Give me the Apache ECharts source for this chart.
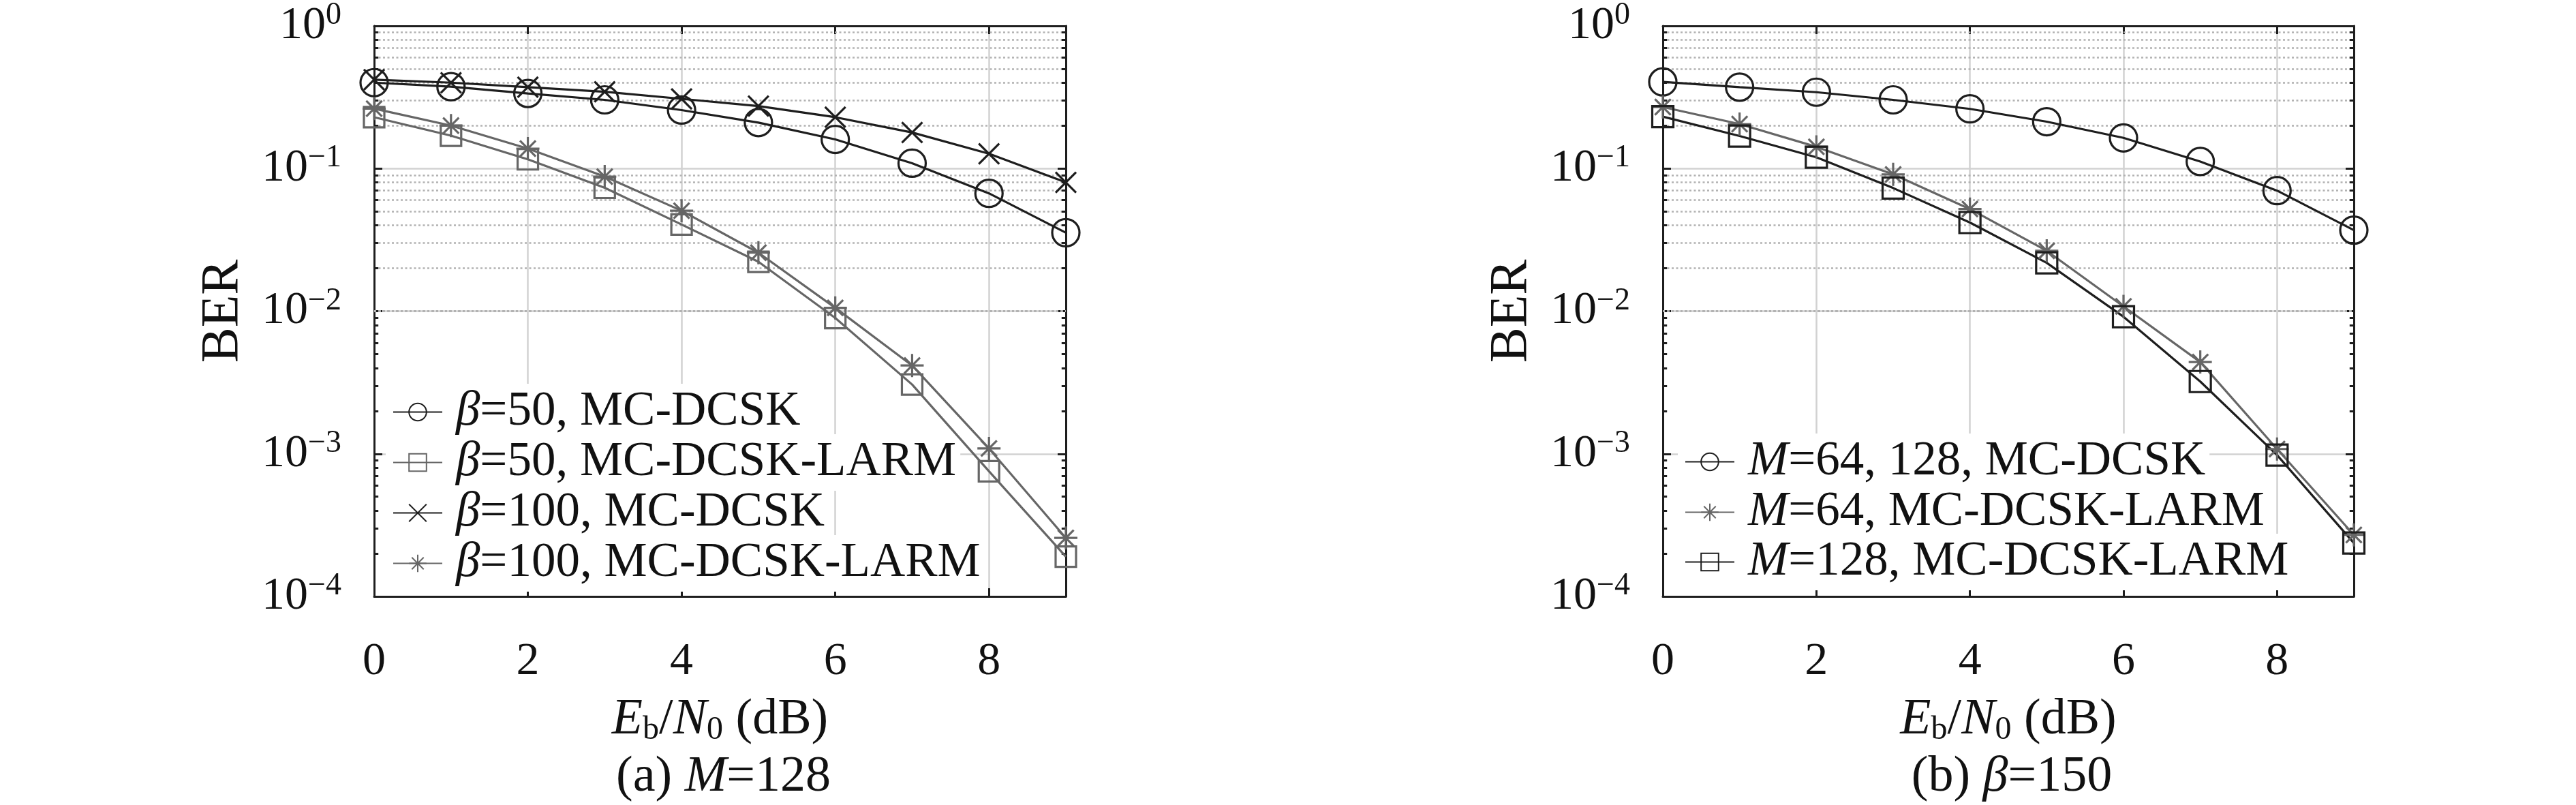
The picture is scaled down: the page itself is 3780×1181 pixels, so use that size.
<!DOCTYPE html>
<html>
<head>
<meta charset="utf-8">
<title>BER vs Eb/N0</title>
<script src="https://cdn.jsdelivr.net/npm/echarts@6/dist/echarts.min.js"></script>
<style>
  html, body { margin: 0; padding: 0; background: #fff; }
  #chart { width: 3780px; height: 1181px; }
</style>
</head>
<body>
<div id="chart"></div>
<script>
// Eb/N0 (dB) sample points and axis ticks
const snr = [0, 1, 2, 3, 4, 5, 6, 7, 8, 9]
const xTicks = [0, 2, 4, 6, 8]
const yTickExps = [-4, -3, -2, -1, 0]

// (a) M=128
const beta50Dcsk = [0.40, 0.375, 0.336, 0.303, 0.257, 0.21, 0.160, 0.109, 0.067, 0.0355]
const beta50Larm = [0.229, 0.170, 0.116, 0.0733, 0.0405, 0.0222, 0.00895, 0.00306, 0.000754, 0.000190]
const beta100Dcsk = [0.42, 0.40, 0.372, 0.345, 0.308, 0.274, 0.229, 0.179, 0.127, 0.080]
const beta100Larm = [0.263, 0.20, 0.138, 0.0878, 0.0506, 0.0257, 0.01055, 0.00416, 0.00109, 0.000257]

// (b) beta=150
const m64m128Dcsk = [0.405, 0.372, 0.343, 0.303, 0.262, 0.213, 0.164, 0.112, 0.070, 0.037]
const m64Larm = [0.27, 0.205, 0.142, 0.091, 0.052, 0.0265, 0.0108, 0.0044, 0.00108, 0.00027]
const m128Larm = [0.231, 0.169, 0.12, 0.073, 0.0418, 0.0218, 0.00914, 0.00321, 0.00098, 0.000237]

const FONT = 'Liberation Serif'
const TXT = '#111'
const BLACK = '#1e1e1e'
const GRAY = '#666'

const CROSS = 'path://M0,0L10,10M10,0L0,10'
const STAR = 'path://M5,0L5,10M0,5L10,5M1.6,1.6L8.4,8.4M8.4,1.6L1.6,8.4'

const plots = [
  { left: 549, top: 31, width: 1015, height: 844, caption: '(a) {i|M}=128' },
  { left: 2440, top: 30, width: 1014, height: 845, caption: '(b) {i|β}=150' }
]

// positions of the 2..9 x 10^k grid lines
const minorVals = []
for (let e = -4; e < 0; e++) {
  for (let m = 2; m <= 9; m++) minorVals.push(+(m * Math.pow(10, e)).toPrecision(3))
}

const italic = { fontFamily: FONT, fontStyle: 'italic', fontSize: 74, color: TXT }

function xAxes(g) {
  const base = {
    gridIndex: g, type: 'value', min: 0, max: 9, interval: 2,
    axisLine: { show: true, onZero: false, lineStyle: { color: BLACK, width: 3 } },
    axisTick: { show: true, inside: true, length: 12, lineStyle: { color: BLACK, width: 3 } }
  }
  return [
    Object.assign({}, base, {
      position: 'bottom',
      splitLine: { show: true, lineStyle: { color: '#d2d2d2', width: 2.5 } },
      axisLabel: {
        fontFamily: FONT, fontSize: 68, color: TXT, margin: 62, showMaxLabel: false,
        formatter: v => (xTicks.includes(v) ? String(v) : '')
      },
      name: '{i|E}{sub|b}/{i|N}{sub|0} (dB)',
      nameLocation: 'middle', nameGap: 144,
      nameTextStyle: {
        fontFamily: FONT, fontSize: 74, color: TXT,
        rich: {
          i: italic,
          sub: { fontFamily: FONT, fontSize: 48, color: TXT, padding: [28, 0, 0, 0] }
        }
      }
    }),
    Object.assign({}, base, { position: 'top', splitLine: { show: false }, axisLabel: { show: false } })
  ]
}

function yAxes(g) {
  const base = {
    gridIndex: g, type: 'log', logBase: 10, min: 0.0001, max: 1,
    axisLine: { show: true, onZero: false, lineStyle: { color: BLACK, width: 3 } },
    axisTick: { show: true, inside: true, length: 12, lineStyle: { color: BLACK, width: 3 } }
  }
  return [
    Object.assign({}, base, {
      position: 'left',
      splitLine: { show: true, lineStyle: { color: '#d2d2d2', width: 2.5 } },
      axisLabel: {
        margin: 48, fontFamily: FONT, fontSize: 68, color: TXT,
        formatter: v => {
          const e = Math.round(Math.log10(v))
          if (!yTickExps.includes(e)) return ''
          return '{b|10}{s|' + (e < 0 ? '\u2212' + (-e) : e) + '}'
        },
        rich: {
          b: { fontFamily: FONT, fontSize: 68, color: TXT },
          s: { fontFamily: FONT, fontSize: 46, color: TXT, padding: [0, 0, 30, 0] }
        }
      },
      name: 'BER', nameLocation: 'middle', nameGap: 182, nameRotate: 90,
      nameTextStyle: { fontFamily: FONT, fontSize: 78, color: TXT }
    }),
    Object.assign({}, base, { position: 'right', splitLine: { show: false }, axisLabel: { show: false } })
  ]
}

// dotted minor grid and short minor ticks on both y axes
function decorations(g) {
  const ax = { xAxisIndex: 2 * g, yAxisIndex: 2 * g }
  const tickLen = 0.055
  return [
    Object.assign({
      type: 'line', data: [], silent: true, z: 1,
      markLine: {
        z: 1, silent: true, symbol: ['none', 'none'], label: { show: false },
        lineStyle: { color: '#b2b2b2', width: 2.5, type: [3, 3.5] },
        data: minorVals.map(v => ({ yAxis: v }))
      }
    }, ax),
    Object.assign({
      type: 'line', data: [], silent: true, z: 5,
      markLine: {
        z: 5, silent: true, symbol: ['none', 'none'], label: { show: false },
        lineStyle: { color: BLACK, width: 3, type: 'solid' },
        data: minorVals.flatMap(v => [
          [{ coord: [0, v] }, { coord: [tickLen, v] }],
          [{ coord: [9 - tickLen, v] }, { coord: [9, v] }]
        ])
      }
    }, ax)
  ]
}

// curves sit above the white legend boxes, the grid sits below them
function curve(name, values, g, color, symbol, size) {
  return {
    name, type: 'line', xAxisIndex: 2 * g, yAxisIndex: 2 * g, z: 6,
    data: snr.map((x, i) => [x, values[i]]),
    symbol, symbolSize: size, showSymbol: true,
    lineStyle: { color, width: 3.2 },
    itemStyle: { color: 'rgba(0,0,0,0)', borderColor: color, borderWidth: 3.2 },
    emphasis: { disabled: true }
  }
}

function legendRow(name, left, top) {
  return {
    data: [name], left, top, orient: 'horizontal', selectedMode: false,
    backgroundColor: '#fff', padding: [6, 6, 6, 10],
    itemWidth: 72, itemHeight: 32, itemGap: 0,
    formatter: n => n.replace(/^(β|M)/, '{i|$1}'),
    textStyle: {
      fontFamily: FONT, fontSize: 71, color: TXT, lineHeight: 62, padding: [0, 0, 0, 15],
      rich: { i: Object.assign({}, italic, { fontSize: 71, lineHeight: 62 }) }
    }
  }
}

const leftNames = ['β=50, MC-DCSK', 'β=50, MC-DCSK-LARM', 'β=100, MC-DCSK', 'β=100, MC-DCSK-LARM']
const rightNames = ['M=64, 128, MC-DCSK', 'M=64, MC-DCSK-LARM', 'M=128, MC-DCSK-LARM']

const chart = echarts.init(document.getElementById('chart'))
chart.setOption({
  animation: false,
  backgroundColor: '#fff',
  grid: plots.map(p => ({ left: p.left, top: p.top, width: p.width, height: p.height })),
  xAxis: [].concat(xAxes(0), xAxes(1)),
  yAxis: [].concat(yAxes(0), yAxes(1)),
  title: plots.map(p => ({
    text: p.caption, left: p.left + p.width / 2, top: 1099, textAlign: 'center',
    textStyle: {
      fontFamily: FONT, fontSize: 74, fontWeight: 'normal', color: TXT,
      rich: { i: italic }
    }
  })),
  legend: [
    legendRow(leftNames[0], 566, 563),
    legendRow(leftNames[1], 566, 637),
    legendRow(leftNames[2], 566, 711),
    legendRow(leftNames[3], 566, 785),
    legendRow(rightNames[0], 2462, 636),
    legendRow(rightNames[1], 2462, 710),
    legendRow(rightNames[2], 2462, 783)
  ],
  series: [].concat(
    decorations(0), decorations(1),
    [
      curve(leftNames[0], beta50Dcsk, 0, BLACK, 'circle', 40),
      curve(leftNames[1], beta50Larm, 0, GRAY, 'rect', 30),
      curve(leftNames[2], beta100Dcsk, 0, BLACK, CROSS, 30),
      curve(leftNames[3], beta100Larm, 0, GRAY, STAR, 34),
      curve(rightNames[0], m64m128Dcsk, 1, BLACK, 'circle', 40),
      curve(rightNames[1], m64Larm, 1, GRAY, STAR, 34),
      curve(rightNames[2], m128Larm, 1, BLACK, 'rect', 31)
    ]
  )
})
</script>
</body>
</html>
